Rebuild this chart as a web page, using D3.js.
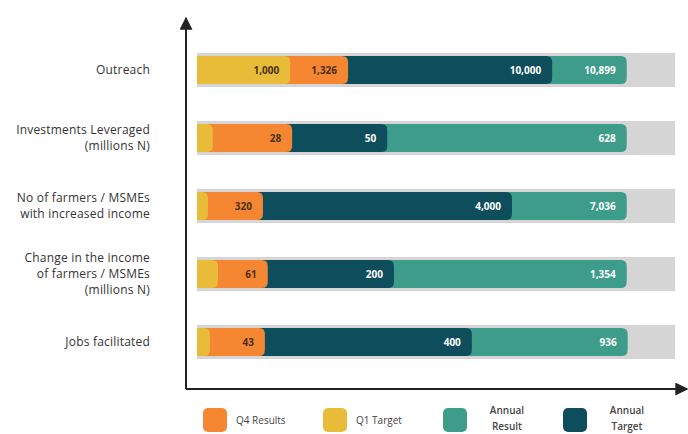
<!DOCTYPE html>
<html>
<head>
<meta charset="utf-8">
<script src="https://cdn.jsdelivr.net/npm/d3@7"></script>
<style>
  html, body { margin: 0; padding: 0; background: #fff; }
  svg { display: block; }
  text { font-family: "Open Sans", "Noto Sans", sans-serif; }
</style>
</head>
<body>
<svg id="chart" width="688" height="434"></svg>
<script>
// ---- data ----
const categories = [
  "Outreach",
  "Investments Leveraged|(millions N)",
  "No of farmers / MSMEs|with increased income",
  "Change in the income|of farmers / MSMEs|(millions N)",
  "Jobs facilitated"
];
const q1TargetLabels     = ["1,000", "", "", "", ""];
const q4ResultLabels     = ["1,326", "28", "320", "61", "43"];
const annualTargetLabels = ["10,000", "50", "4,000", "200", "400"];
const annualResultLabels = ["10,899", "628", "7,036", "1,354", "936"];
// The infographic is not drawn to scale: extent of each layer as a share (%) of the grey track
const q1TargetShare     = [19.5, 3.3, 2.3, 4.4, 2.7];
const q4ResultShare     = [31.6, 19.9, 13.8, 14.8, 14.2];
const annualTargetShare = [74.3, 39.8, 65.9, 41.2, 57.5];
const annualResultShare = [89.9, 89.9, 89.9, 89.9, 90.1];
const trackShare = 100;

const legendItems = ["Q4 Results", "Q1 Target", "Annual|Result", "Annual|Target"];
const colors = {
  q4: "#F58632", q1: "#E8BC38", result: "#3E9C8A", target: "#0E4E5C", track: "#D5D5D5"
};
const legendColors = [colors.q4, colors.q1, colors.result, colors.target];

// ---- drawing ----
const svg = d3.select("#chart");
const x = d3.scaleLinear().domain([0, 100]).range([197, 675]);
const y = d3.scalePoint().domain(d3.range(categories.length)).range([70, 342]);

const rows = categories.map((c, i) => ({
  i, cat: c,
  layers: [
    { key: "result", share: annualResultShare[i], label: annualResultLabels[i], color: colors.result, txt: "#fff" },
    { key: "target", share: annualTargetShare[i], label: annualTargetLabels[i], color: colors.target, txt: "#fff" },
    { key: "q4", share: q4ResultShare[i], label: q4ResultLabels[i], color: colors.q4, txt: "#4a3012" },
    { key: "q1", share: q1TargetShare[i], label: q1TargetLabels[i], color: colors.q1, txt: "#4a3012" }
  ]
}));

const trackH = 34, barH = 28, r = 6;

function rightRounded(x0, x1, yc, h, rad) {
  const top = yc - h / 2, bot = yc + h / 2;
  const rr = Math.min(rad, (x1 - x0));
  return `M${x0},${top} H${x1 - rr} Q${x1},${top} ${x1},${top + rr} V${bot - rr} Q${x1},${bot} ${x1 - rr},${bot} H${x0} Z`;
}

const g = svg.append("g");
const row = g.selectAll("g.row").data(rows).join("g").attr("class", "row");

row.append("rect")
  .attr("x", x(0)).attr("width", x(trackShare) - x(0))
  .attr("y", d => y(d.i) - trackH / 2).attr("height", trackH)
  .attr("fill", colors.track);

row.selectAll("path.seg").data(d => d.layers.map(l => ({ ...l, i: d.i })))
  .join("path").attr("class", "seg")
  .attr("d", d => rightRounded(x(0), x(d.share), y(d.i), barH, r))
  .attr("fill", d => d.color);

row.selectAll("text.val").data(d => d.layers.filter(l => l.label).map(l => ({ ...l, i: d.i })))
  .join("text").attr("class", "val")
  .attr("x", d => x(d.share) - 11)
  .attr("y", d => y(d.i))
  .attr("dy", "0.35em")
  .attr("text-anchor", "end")
  .attr("font-size", 10)
  .attr("font-weight", 700)
  .attr("fill", d => d.txt)
  .text(d => d.label);

// category labels
row.append("text")
  .attr("text-anchor", "end")
  .attr("font-size", 12)
  .attr("letter-spacing", 0.2)
  .attr("fill", "#333")
  .each(function(d) {
    const lines = d.cat.split("|");
    const lh = 16;
    const t = d3.select(this);
    lines.forEach((ln, k) => {
      t.append("tspan").attr("x", 150)
        .attr("y", y(d.i) + (k - (lines.length - 1) / 2) * lh)
        .attr("dy", "0.35em").text(ln);
    });
  });

// axes with arrows
const defs = svg.append("defs");
defs.append("marker").attr("id", "arr").attr("viewBox", "0 0 10 10")
  .attr("refX", 9).attr("refY", 5).attr("markerWidth", 6.5).attr("markerHeight", 6.5)
  .attr("markerUnits", "strokeWidth").attr("orient", "auto")
  .append("path").attr("d", "M0,0 L10,5 L0,10 Z").attr("fill", "#222");

const axisY = y.range()[1] + 47;
svg.append("line").attr("x1", 186).attr("x2", 186).attr("y1", axisY).attr("y2", 18)
  .attr("stroke", "#222").attr("stroke-width", 2).attr("marker-end", "url(#arr)");
svg.append("line").attr("x1", 186).attr("x2", 687).attr("y1", axisY).attr("y2", axisY)
  .attr("stroke", "#222").attr("stroke-width", 2).attr("marker-end", "url(#arr)");

// legend
const lx = d3.scalePoint().domain(d3.range(legendItems.length)).range([203, 563]);
const leg = svg.append("g").selectAll("g").data(legendItems).join("g")
  .attr("transform", (d, i) => `translate(${lx(i)},408)`);
leg.append("rect").attr("width", 24).attr("height", 24).attr("rx", 5)
  .attr("fill", (d, i) => legendColors[i]);
leg.append("text")
  .attr("font-size", 10).attr("fill", "#444")
  .each(function(d) {
    const lines = d.split("|");
    const t = d3.select(this);
    if (lines.length === 1) {
      t.attr("text-anchor", "start");
      t.append("tspan").attr("x", 33).attr("y", 12).attr("dy", "0.35em").text(lines[0]);
    } else {
      t.attr("text-anchor", "middle").attr("font-weight", 600);
      lines.forEach((ln, k) => t.append("tspan").attr("x", 64).attr("y", 2 + k * 16).attr("dy", "0.35em").text(ln));
    }
  });
</script>
</body>
</html>
